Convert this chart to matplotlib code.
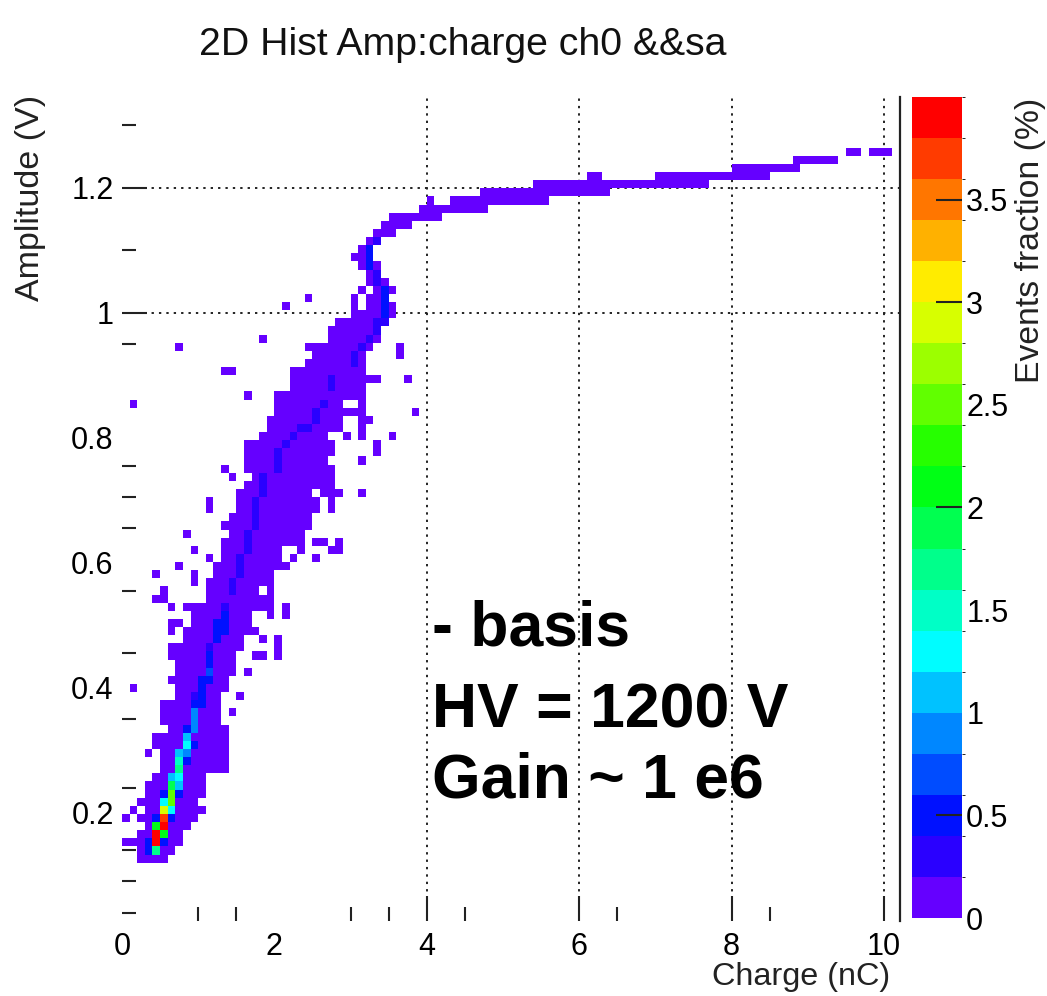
import numpy as np
import matplotlib.pyplot as plt
import colorsys
from matplotlib import font_manager
from matplotlib.colors import ListedColormap, BoundaryNorm

plt.rcParams['font.family'] = ['Liberation Sans', 'DejaVu Sans']

title = '2D Hist Amp:charge ch0 &&sa'
x_title = 'Charge (nC)'
y_title = 'Amplitude (V)'
z_title = 'Events fraction (%)'
note_lines = ['- basis', 'HV = 1200 V', 'Gain ~ 1 e6']

x_ticks = [0, 2, 4, 6, 8, 10]
x_tick_labels = ['0', '2', '4', '6', '8', '10']
y_ticks = [0.2, 0.4, 0.6, 0.8, 1.0, 1.2]
y_tick_labels = ['0.2', '0.4', '0.6', '0.8', '1', '1.2']
z_ticks = [0, 0.5, 1, 1.5, 2, 2.5, 3, 3.5]
z_tick_labels = ['0', '0.5', '1', '1.5', '2', '2.5', '3', '3.5']

# histogram binning
charge_bin = 0.1      # nC
amp_start = 0.12      # V, lower edge of row 0
amp_bin = 0.013       # V
n_cols = 102
n_rows = 89
floor_level = 0.1     # events % of the sparsely filled bins

# filled bins per amplitude row: row -> [(first col, last col), ...]
occupied = {
    0: [(2, 5)],
    1: [(2, 6)],
    2: [(0, 7)],
    3: [(2, 7)],
    4: [(3, 8)],
    5: [(0, 0), (2, 9)],
    6: [(1, 1), (3, 10)],
    7: [(2, 9)],
    8: [(3, 10)],
    9: [(3, 10)],
    10: [(4, 10)],
    11: [(5, 13)],
    12: [(5, 13)],
    13: [(3, 3), (5, 13)],
    14: [(4, 13)],
    15: [(4, 13)],
    16: [(6, 13)],
    17: [(5, 12)],
    18: [(5, 12), (14, 14)],
    19: [(5, 12)],
    20: [(7, 12), (15, 15)],
    21: [(1, 1), (7, 13)],
    22: [(6, 13)],
    23: [(7, 14), (16, 16)],
    24: [(7, 14)],
    25: [(6, 14), (17, 18), (20, 20)],
    26: [(6, 15), (20, 20)],
    27: [(8, 15), (18, 18), (20, 20)],
    28: [(6, 6), (8, 17)],
    29: [(6, 7), (9, 16)],
    30: [(9, 16), (19, 19), (21, 21)],
    31: [(6, 6), (8, 19), (21, 21)],
    32: [(4, 5), (11, 19)],
    33: [(5, 5), (11, 17), (19, 19)],
    34: [(9, 9), (11, 19)],
    35: [(4, 4), (9, 9), (12, 19)],
    36: [(7, 7), (12, 21)],
    37: [(11, 11), (13, 20), (22, 22), (25, 25)],
    38: [(9, 9), (13, 20), (23, 23), (27, 28)],
    39: [(13, 23), (25, 26), (28, 28)],
    40: [(8, 8), (14, 23)],
    41: [(13, 24)],
    42: [(14, 24)],
    43: [(11, 11), (15, 25), (27, 27)],
    44: [(11, 11), (15, 25), (27, 27)],
    45: [(15, 24), (26, 28), (31, 31)],
    46: [(16, 27)],
    47: [(14, 14), (17, 27)],
    48: [(13, 13), (16, 27)],
    49: [(16, 26), (31, 31)],
    50: [(16, 27), (33, 33)],
    51: [(16, 27), (33, 33)],
    52: [(18, 26), (29, 29), (31, 31), (35, 35)],
    53: [(19, 28), (31, 31)],
    54: [(19, 28), (31, 32)],
    55: [(20, 31), (38, 38)],
    56: [(1, 1), (20, 28), (31, 31)],
    57: [(16, 16), (20, 31)],
    58: [(22, 31)],
    59: [(22, 33), (37, 37)],
    60: [(13, 14), (22, 31)],
    61: [(24, 31)],
    62: [(25, 31), (36, 36)],
    63: [(7, 7), (24, 32), (36, 36)],
    64: [(18, 18), (27, 33)],
    65: [(27, 33)],
    66: [(28, 34)],
    67: [(30, 35)],
    68: [(21, 21), (30, 30), (32, 35)],
    69: [(24, 24), (30, 30), (32, 34)],
    70: [(31, 31), (33, 35)],
    71: [(32, 34)],
    72: [(32, 33)],
    73: [(31, 33)],
    74: [(30, 32)],
    75: [(31, 32)],
    76: [(32, 33)],
    77: [(33, 35)],
    78: [(34, 37)],
    79: [(35, 41)],
    80: [(39, 47)],
    81: [(40, 40), (43, 55)],
    82: [(47, 63)],
    83: [(54, 76)],
    84: [(61, 62), (70, 84)],
    85: [(80, 88)],
    86: [(88, 93)],
    87: [(95, 96), (98, 100)],
}

# denser bins along the ridge: (row, col, events %)
hot_bins = [
    (1, 3, 0.6), (1, 4, 1.7),
    (2, 3, 0.5), (2, 4, 3.9), (2, 5, 0.6),
    (3, 4, 3.9), (3, 5, 2.0),
    (4, 4, 2.1), (4, 5, 3.9),
    (5, 4, 0.6), (5, 5, 3.7), (5, 6, 0.5),
    (6, 5, 2.9), (6, 6, 1.3),
    (7, 5, 1.3), (7, 6, 2.5),
    (8, 5, 0.6), (8, 6, 2.5), (8, 7, 0.5),
    (9, 6, 1.9), (9, 7, 1.0),
    (10, 6, 1.0), (10, 7, 1.3),
    (11, 7, 1.6),
    (12, 7, 1.5), (12, 8, 0.5),
    (13, 7, 1.0), (13, 8, 0.9),
    (14, 8, 1.3), (14, 9, 0.5),
    (15, 8, 1.0),
    (16, 8, 0.6), (16, 9, 0.9),
    (17, 9, 0.8),
    (18, 9, 0.9),
    (19, 9, 0.5), (19, 10, 0.5),
    (20, 9, 0.3), (20, 10, 0.6),
    (21, 10, 0.5),
    (22, 10, 0.5), (22, 11, 0.5),
    (23, 11, 0.7),
    (24, 11, 0.6),
    (25, 11, 0.6),
    (26, 11, 0.3),
    (27, 12, 0.5),
    (28, 12, 0.5), (28, 13, 0.5),
    (29, 12, 0.5), (29, 13, 0.5),
    (30, 13, 0.5),
    (31, 13, 0.3),
    (33, 14, 0.3), (34, 14, 0.3),
    (35, 15, 0.3), (36, 15, 0.3), (37, 15, 0.3),
    (38, 16, 0.3), (39, 16, 0.3), (40, 16, 0.3),
    (41, 17, 0.3), (42, 17, 0.3), (43, 17, 0.3), (44, 17, 0.3),
    (45, 18, 0.3), (46, 18, 0.3), (47, 18, 0.3),
    (48, 20, 0.3), (49, 20, 0.3), (50, 20, 0.3),
    (51, 21, 0.3), (52, 22, 0.3), (53, 23, 0.3), (53, 24, 0.3),
    (54, 25, 0.3), (55, 25, 0.3), (56, 26, 0.3),
    (58, 27, 0.3), (59, 27, 0.3),
    (61, 30, 0.3), (62, 30, 0.3), (63, 31, 0.3), (64, 32, 0.3),
    (65, 33, 0.3), (66, 33, 0.3), (66, 34, 0.3),
    (67, 34, 0.5), (68, 34, 0.5), (69, 34, 0.5), (70, 34, 0.5),
    (71, 33, 0.3), (72, 33, 0.3),
    (73, 32, 0.5), (74, 32, 0.5), (75, 32, 0.5),
    (76, 33, 0.3),
]

H = np.full((n_rows, n_cols), np.nan)
for row, spans in occupied.items():
    for c0, c1 in spans:
        H[row, c0:c1 + 1] = floor_level
for row, col, val in hot_bins:
    H[row, col] = val
H = np.ma.masked_invalid(H)

x_edges = np.arange(n_cols + 1) * charge_bin
y_edges = amp_start + np.arange(n_rows + 1) * amp_bin

# 20-step rainbow, violet -> red
levels = np.linspace(0, 4, 21)
hues = np.linspace(0.733, 0.0, 20)
cmap = ListedColormap([colorsys.hsv_to_rgb(h, 1, 1) for h in hues])
norm = BoundaryNorm(levels, cmap.N)

W, Hpx = 1047, 996
fig = plt.figure(figsize=(W / 100, Hpx / 100), dpi=100)

ax = fig.add_axes([122 / W, 1 - 921 / Hpx, 778 / W, 824 / Hpx])
mesh = ax.pcolormesh(x_edges, y_edges, H, cmap=cmap, norm=norm)
ax.set_xlim(0, 10.21)
ax.set_ylim(0.0267, 1.345)

for s in ['left', 'top', 'bottom']:
    ax.spines[s].set_visible(False)
ax.spines['right'].set_linewidth(1.6)
ax.spines['right'].set_color('#222222')

dotted = dict(color='#222222', lw=1.4, ls=(0, (1.2, 2.6)), zorder=0)
for xv in [4, 6, 8, 10]:
    ax.axvline(xv, **dotted)
for yv in [1.0, 1.2]:
    ax.axhline(yv, **dotted)

ax.set_xticks(x_ticks)
ax.set_xticklabels(x_tick_labels)
ax.set_xticks([1, 1.5, 3, 3.5, 4.5, 6.5, 8.5], minor=True)
ax.set_yticks(y_ticks)
ax.set_yticklabels(y_tick_labels)
ax.set_yticks([0.04, 0.09, 0.14, 0.24, 0.35, 0.455, 0.555, 0.655, 0.705,
               0.755, 0.95, 1.10, 1.30], minor=True)
ax.tick_params(which='both', direction='in', color='#222222', width=1.5,
               labelsize=22, top=False, right=False)
ax.tick_params(which='major', length=18)
ax.tick_params(which='minor', length=10)
ax.tick_params(axis='x', pad=8)
ax.tick_params(axis='y', pad=6)
for t in ax.xaxis.get_major_ticks()[:2]:
    t.tick1line.set_visible(False)
for t in ax.yaxis.get_major_ticks()[:4]:
    t.tick1line.set_visible(False)

# colour scale
cax = fig.add_axes([912 / W, 1 - 918 / Hpx, 50 / W, 821 / Hpx])
cb = fig.colorbar(mesh, cax=cax, ticks=z_ticks)
cb.outline.set_visible(False)
cax.set_yticklabels(z_tick_labels)
cax.tick_params(direction='in', length=19, width=1.5, color='#222222',
                labelsize=22, pad=3)
for t, v in zip(cax.yaxis.get_major_ticks(), z_ticks):
    if v not in (0.5, 2, 3, 3.5):
        t.tick1line.set_visible(False)
        t.tick2line.set_visible(False)

# condensed face for the title when available
installed = {f.name for f in font_manager.fontManager.ttflist}
if 'Liberation Sans Narrow' in installed:
    title_font = dict(family='Liberation Sans Narrow', fontsize=34)
else:
    title_font = dict(family='Liberation Sans', fontsize=28.3)

fig.text(463 / W, 1 - 45 / Hpx, title, ha='center', va='center',
         color='#111111', **title_font)
fig.text(890 / W, 1 - 985 / Hpx, x_title, fontsize=23.3, ha='right',
         va='baseline', color='#222222')
fig.text(30 / W, 1 - 95 / Hpx, y_title, fontsize=24.5, rotation=90,
         ha='center', va='top', color='#222222')
fig.text(1030 / W, 1 - 98 / Hpx, z_title, fontsize=24.3, rotation=90,
         ha='center', va='top', color='#222222')

for line, base in zip(note_lines, [645, 728, 798]):
    fig.text(432 / W, 1 - base / Hpx, line, fontsize=45, fontweight='bold',
             ha='left', va='baseline', color='black')

fig.savefig('out.png', dpi=100)
